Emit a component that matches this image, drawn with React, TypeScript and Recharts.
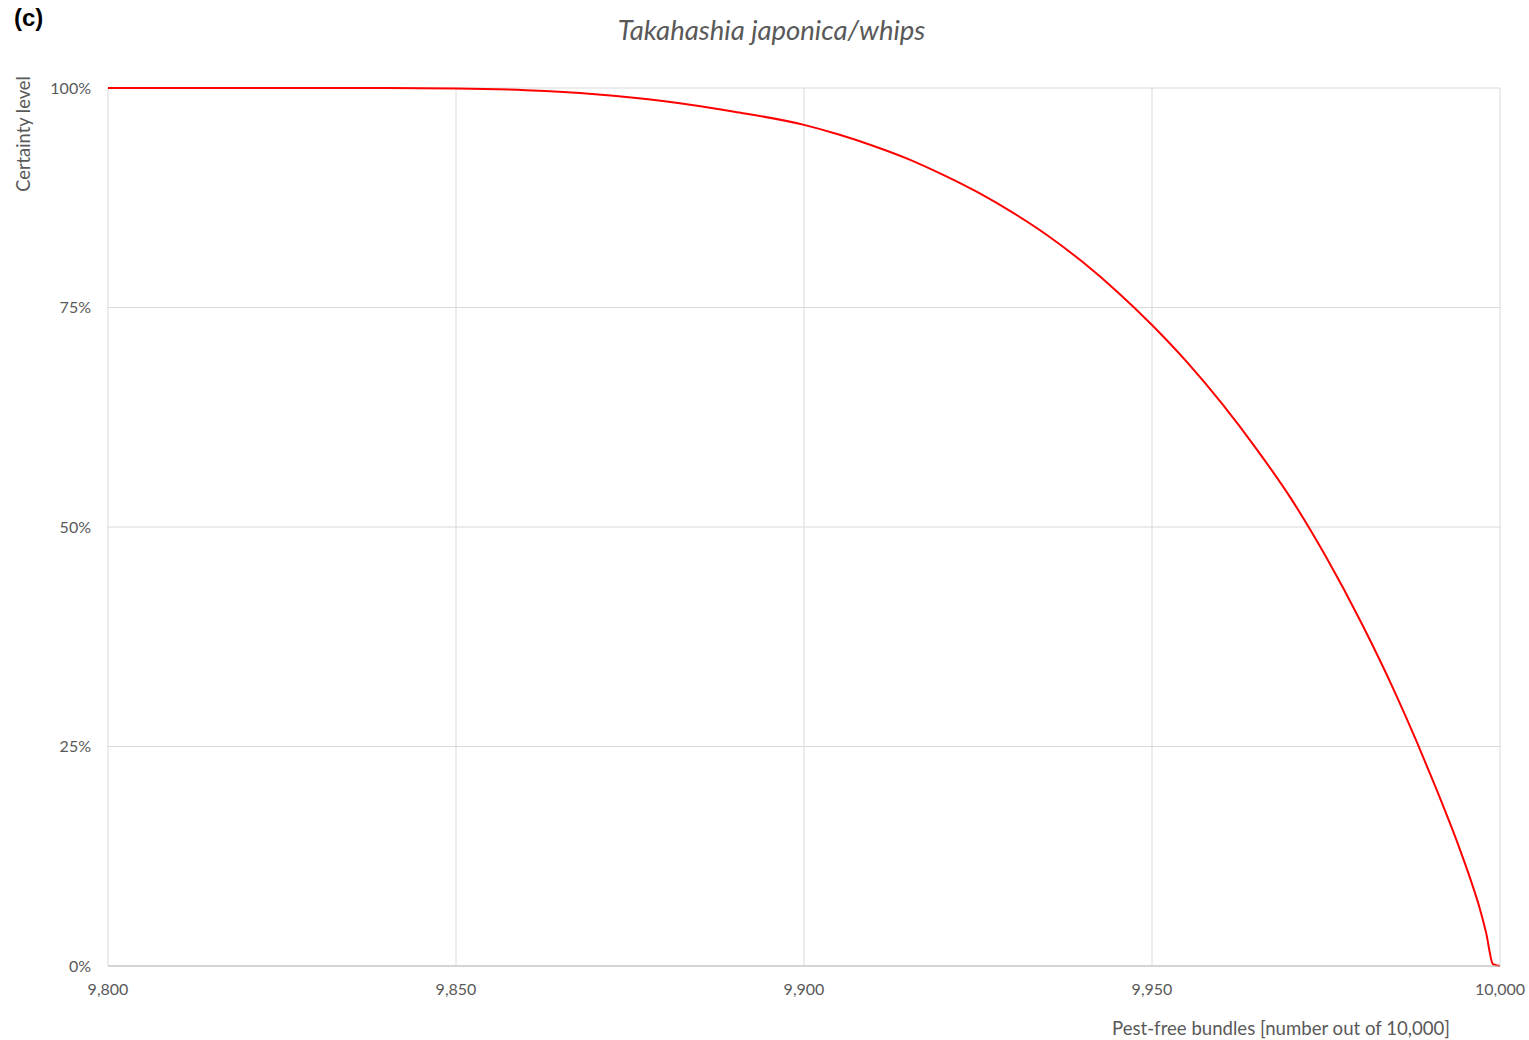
import { LineChart, Line, XAxis, YAxis, CartesianGrid } from 'recharts'

const bundles = [9800, 9810, 9820, 9830, 9840, 9850, 9860, 9870, 9880, 9890, 9900, 9905, 9910, 9915, 9920, 9925, 9930, 9935, 9940, 9945, 9950, 9955, 9960, 9965, 9970, 9975, 9980, 9985, 9988, 9990, 9992, 9994, 9995, 9996, 9997, 9998, 9999, 10000]
const certainty = [1.0, 1.0, 1.0, 1.0, 1.0, 0.9995, 0.9975, 0.993, 0.985, 0.973, 0.958, 0.947, 0.934, 0.919, 0.901, 0.881, 0.858, 0.832, 0.802, 0.768, 0.73, 0.688, 0.641, 0.589, 0.532, 0.466, 0.392, 0.31, 0.256, 0.218, 0.179, 0.138, 0.116, 0.093, 0.068, 0.038, 0.002, 0]
const xTicks = [9800, 9850, 9900, 9950, 10000]
const yTicks = [0, 0.25, 0.5, 0.75, 1]

const data = bundles.map((b, i) => ({ x: b, y: certainty[i] }))

const font = 'Lato, "Open Sans", sans-serif'
const grey = '#595959'

export default function App() {
  return (
    <div style={{ position: 'absolute', left: 0, top: 0, width: 1529, height: 1040, background: '#fff', fontFamily: font }}>
      <div style={{ position: 'absolute', left: 14, top: 4, fontFamily: '"Liberation Sans", Arial, sans-serif', fontWeight: 'bold', fontSize: 24, color: '#000' }}>(c)</div>
      <div style={{ position: 'absolute', left: 0, width: 1543, top: 13, textAlign: 'center', fontStyle: 'italic', fontSize: 27.5, color: grey }}>
        Takahashia japonica/whips
      </div>
      <div style={{ position: 'absolute', left: 1112, top: 1017, fontSize: 18.6, color: grey, whiteSpace: 'nowrap' }}>
        Pest-free bundles [number out of 10,000]
      </div>
      <div style={{ position: 'absolute', left: 23, top: 134, transform: 'translate(-50%, -50%) rotate(-90deg)', fontSize: 18.3, color: grey, whiteSpace: 'nowrap' }}>
        Certainty level
      </div>
      <LineChart width={1529} height={1040} data={data} margin={{ top: 88, right: 29, bottom: 0, left: 0 }}>
        <CartesianGrid stroke="#d9d9d9" />
        <XAxis
          dataKey="x"
          type="number"
          domain={[9800, 10000]}
          ticks={xTicks}
          tickFormatter={(v: number) => v.toLocaleString('en-US')}
          tickLine={false}
          tickSize={0}
          tickMargin={18}
          height={74}
          stroke="#bfbfbf"
          tick={{ fill: grey, fontSize: 16, fontFamily: font }}
        />
        <YAxis
          type="number"
          domain={[0, 1]}
          ticks={yTicks}
          tickFormatter={(v: number) => `${Math.round(v * 100)}%`}
          axisLine={false}
          tickLine={false}
          tickSize={0}
          tickMargin={17}
          width={108}
          tick={{ fill: grey, fontSize: 16, fontFamily: font }}
        />
        <Line type="monotone" dataKey="y" stroke="#ff0000" strokeWidth={2} dot={false} isAnimationActive={false} />
      </LineChart>
    </div>
  )
}
